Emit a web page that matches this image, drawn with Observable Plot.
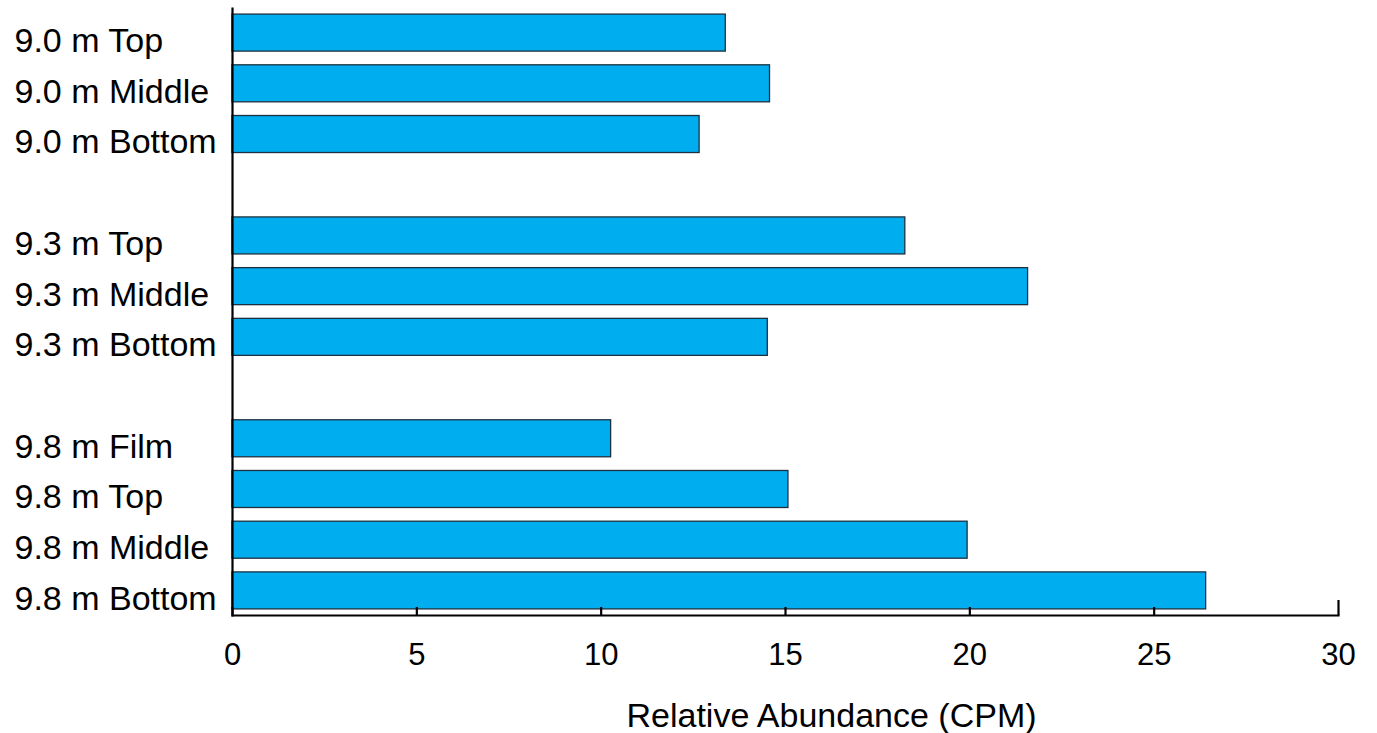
<!DOCTYPE html>
<html>
<head>
<meta charset="utf-8">
<script src="https://cdn.jsdelivr.net/npm/d3@7"></script>
<script src="https://cdn.jsdelivr.net/npm/@observablehq/plot@0.6"></script>
<style>
  html, body { margin: 0; padding: 0; background: #ffffff; }
  #chart svg { display: block; }
</style>
</head>
<body>
<div id="chart"></div>
<script>
// ---- data ----
const labels = [
  "9.0 m Top", "9.0 m Middle", "9.0 m Bottom",
  "9.3 m Top", "9.3 m Middle", "9.3 m Bottom",
  "9.8 m Film", "9.8 m Top", "9.8 m Middle", "9.8 m Bottom"
];
const values = [13.38, 14.58, 12.67, 18.25, 21.58, 14.52, 10.27, 15.08, 19.94, 26.41];
const xTicks = [0, 5, 10, 15, 20, 25, 30];
const xTitle = "Relative Abundance (CPM)";

// blank slots separating the three depth groups
const domain = [...labels.slice(0, 3), "gap1", ...labels.slice(3, 6), "gap2", ...labels.slice(6)];
const data = labels.map((label, i) => ({label, value: values[i]}));

const chart = Plot.plot({
  width: 1377,
  height: 733,
  marginLeft: 232,
  marginRight: 39,
  marginTop: 8,
  marginBottom: 118,
  style: {fontFamily: "'Liberation Sans', Arial, Helvetica, sans-serif", color: "#000", background: "#fff"},
  x: {domain: [0, 30]},
  y: {domain, paddingInner: 0.27, paddingOuter: 0.12, round: false},
  marks: [
    Plot.barX(data, {x: "value", y: "label", fill: "#00adef", stroke: "#1e3040", strokeWidth: 1.3}),
    Plot.frame({anchor: "left", stroke: "#000", strokeWidth: 2.2}),
    Plot.frame({anchor: "bottom", stroke: "#000", strokeWidth: 2.2}),
    Plot.ruleX(xTicks.slice(0, -1), {stroke: "#000", strokeWidth: 2.2, insetTop: 599}),
    Plot.ruleX(xTicks.slice(-1), {stroke: "#000", strokeWidth: 2.2, insetTop: 592}),
    Plot.axisX({ticks: xTicks, tickSize: 0, tickPadding: 27, fontSize: 31, label: null}),
    Plot.axisY({ticks: labels, tickSize: 0, tickPadding: 0, textAnchor: "start", dx: -218, dy: 8, fontSize: 34, label: null}),
    Plot.text([xTitle], {text: d => d, frameAnchor: "bottom", dy: 101, dx: 46, fontSize: 34, lineAnchor: "middle"})
  ]
});
document.getElementById("chart").appendChild(chart);
</script>
</body>
</html>
